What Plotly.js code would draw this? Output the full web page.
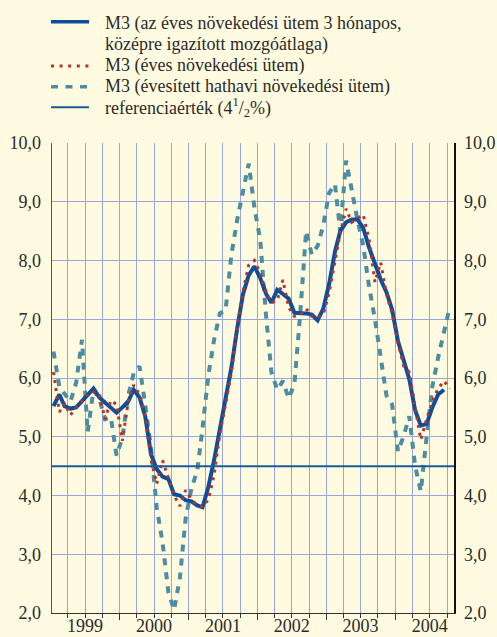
<!DOCTYPE html>
<html>
<head>
<meta charset="utf-8">
<script src="https://cdn.plot.ly/plotly-3.0.1.min.js"></script>
<style>
html,body{margin:0;padding:0;background:#fffbe0;}
#chart{width:497px;height:637px;}
</style>
</head>
<body>
<div id="chart"></div>
<script>
// Monthly observations, January 1999 - October 2004
const startYear = 1999;
const nMonths = 70;
const months = [];
for (let i = 0; i < nMonths; i++) {
  const y = startYear + Math.floor(i / 12);
  const m = (i % 12) + 1;
  months.push(y + '-' + String(m).padStart(2, '0') + '-15');
}

// M3 – 3-month centred moving average of annual growth (ends Sep 2004)
const m3Avg = [5.52,5.72,5.52,5.48,5.50,5.60,5.70,5.82,5.67,5.58,
               5.50,5.41,5.50,5.60,5.80,5.67,5.35,4.70,4.45,4.32,
               4.28,4.02,4.00,3.92,3.90,3.83,3.80,4.15,4.60,5.15,
               5.62,6.18,6.85,7.42,7.75,7.90,7.70,7.43,7.28,7.50,
               7.43,7.35,7.11,7.11,7.10,7.08,6.98,7.18,7.60,8.15,
               8.50,8.65,8.70,8.70,8.55,8.22,7.93,7.68,7.46,7.16,
               6.63,6.28,5.98,5.45,5.19,5.22,5.50,5.72,5.80];

// M3 – annual growth rate
const m3Annual = [6.10,5.42,5.57,5.37,5.50,5.62,5.73,5.76,5.73,5.30,
                  5.62,5.55,4.93,5.60,5.88,5.72,5.35,4.62,4.20,4.60,
                  4.30,4.00,3.82,4.09,3.93,3.83,3.81,3.93,4.35,5.05,
                  5.55,6.10,6.87,7.47,7.92,8.00,7.78,7.47,7.28,7.32,
                  7.67,7.20,7.05,7.08,7.18,7.05,7.03,7.08,7.45,7.98,
                  8.47,8.88,8.65,8.72,8.78,8.35,7.63,7.97,7.43,7.10,
                  6.60,6.20,6.10,5.50,4.95,5.30,5.60,5.82,5.95,5.82];

// M3 – annualised six-month growth rate
const m3SixMonth = [6.45,5.85,5.73,5.60,5.92,6.65,5.08,5.80,5.65,5.30,
                    5.33,4.68,4.98,5.70,6.08,6.20,5.55,4.80,3.80,3.20,
                    2.35,2.05,2.60,3.60,4.12,4.42,5.15,6.05,6.65,7.10,
                    7.15,8.10,8.70,9.20,9.65,8.90,8.35,7.05,6.10,5.80,
                    5.95,5.65,5.90,7.10,8.50,8.10,8.25,8.60,9.15,9.30,
                    8.50,9.70,9.15,8.68,8.25,7.55,7.00,6.35,5.70,5.55,
                    4.75,5.02,5.35,4.50,4.07,5.00,5.85,6.35,6.80,7.20];

const referenceValue = 4.5;

const yearLabels = ['1999','2000','2001','2002','2003','2004'];
const yearCentres = yearLabels.map(y => y + '-07-01');
const yTicks = [2,3,4,5,6,7,8,9,10];

const seriesNames = [
  'M3 (az éves növekedési ütem 3 hónapos,',
  'középre igazított mozgóátlaga)',
  'M3 (éves növekedési ütem)',
  'M3 (évesített hathavi növekedési ütem)',
  'referenciaérték (4<sup>1</sup>/<sub>2</sub>%)'
];

const BLUE = '#0b4f9c', RED = '#b2342c', TEAL = '#4c8da2', REF = '#1c5a9c';
const GRID = '#98a6de', BG = '#fffbe0', TXT = '#2a2a2a';
const FONT = 'Liberation Serif, Times New Roman, serif';
const xRange = ['1999-01-07', '2004-11-07'];
const yRange = [2, 10];

const traces = [
  {x: months, y: m3SixMonth, type: 'scatter', mode: 'lines', name: seriesNames[3],
   line: {color: TEAL, width: 4, dash: '7px,7px'}},
  {x: months.slice(0, m3Avg.length), y: m3Avg, type: 'scatter', mode: 'lines',
   name: seriesNames[0] + ' ' + seriesNames[1], line: {color: BLUE, width: 4}},
  // drawn on the overlaying (identical-range) axes so it sits on top and those axes render
  {x: months, y: m3Annual, type: 'scatter', mode: 'lines', name: seriesNames[2],
   xaxis: 'x2', yaxis: 'y2',
   line: {color: RED, width: 3, dash: '3px,5px'}}
];

// legend drawn as pixel-anchored shapes + annotations
const legendRows = [
  {dy: 121.3, line: {color: BLUE, width: 3.5}},
  {dy: 77, line: {color: RED, width: 3, dash: '3px,5.6px'}},
  {dy: 56.3, line: {color: TEAL, width: 3.5, dash: '7px,7.5px'}},
  {dy: 35.7, line: {color: REF, width: 2}}
];
const legendText = [
  {t: seriesNames[0], dy: 120},
  {t: seriesNames[1], dy: 99},
  {t: seriesNames[2], dy: 77.5},
  {t: seriesNames[3], dy: 56.5},
  {t: seriesNames[4], dy: 35.5}
];

const shapes = [
  {type: 'line', xref: 'paper', x0: 0, x1: 1, yref: 'y', y0: referenceValue, y1: referenceValue,
   line: {color: REF, width: 2}, layer: 'above'}
];
legendRows.forEach(r => shapes.push({
  type: 'line', xref: 'paper', xsizemode: 'pixel', xanchor: 0, x0: -1, x1: 37,
  yref: 'paper', ysizemode: 'pixel', yanchor: 1, y0: r.dy, y1: r.dy, line: r.line
}));

const annotations = legendText.map(r => ({
  xref: 'paper', yref: 'paper', x: 0, y: 1, xshift: 51, yshift: r.dy,
  xanchor: 'left', yanchor: 'middle', showarrow: false, text: r.t,
  font: {family: FONT, size: 18, color: TXT}
}));

const layout = {
  width: 497, height: 637,
  margin: {l: 52, r: 43, t: 143, b: 24, pad: 0},
  paper_bgcolor: BG, plot_bgcolor: BG,
  separators: ', ',
  showlegend: false,
  font: {family: FONT, size: 18, color: TXT},
  xaxis: {
    type: 'date', range: xRange, tick0: '1999-01-01', dtick: 'M12',
    showgrid: true, gridcolor: GRID, gridwidth: 1,
    ticks: 'outside', ticklen: 6, tickcolor: '#333', tickwidth: 1,
    showticklabels: false, showline: true, linecolor: '#333', linewidth: 1, zeroline: false,
    minor: {dtick: 'M3', tick0: '1999-01-01', showgrid: true, gridcolor: GRID, gridwidth: 1,
            ticks: 'outside', ticklen: 4, tickcolor: '#333'}
  },
  xaxis2: {
    type: 'date', range: xRange, overlaying: 'x', anchor: 'y2', side: 'bottom',
    tickmode: 'array', tickvals: yearCentres, ticktext: yearLabels,
    ticks: '', showgrid: false, showline: false, zeroline: false,
    ticklabelstandoff: 0, tickfont: {family: FONT, size: 18, color: TXT}
  },
  yaxis: {
    range: yRange, tickmode: 'array', tickvals: yTicks, tickformat: '.1f',
    showgrid: true, gridcolor: GRID, gridwidth: 1, zeroline: false,
    showline: true, linecolor: '#555', linewidth: 1.5, ticks: '',
    ticklabelstandoff: 6, tickfont: {family: FONT, size: 18, color: TXT}
  },
  yaxis2: {
    range: yRange, overlaying: 'y', side: 'right', anchor: 'x2',
    tickmode: 'array', tickvals: yTicks, tickformat: '.1f',
    showgrid: false, zeroline: false, showline: true, linecolor: '#111', linewidth: 1.5,
    ticks: '', ticklabelstandoff: 5, tickfont: {family: FONT, size: 18, color: TXT}
  },
  shapes: shapes,
  annotations: annotations
};

Plotly.newPlot('chart', traces, layout, {displayModeBar: false, staticPlot: true});
</script>
</body>
</html>
